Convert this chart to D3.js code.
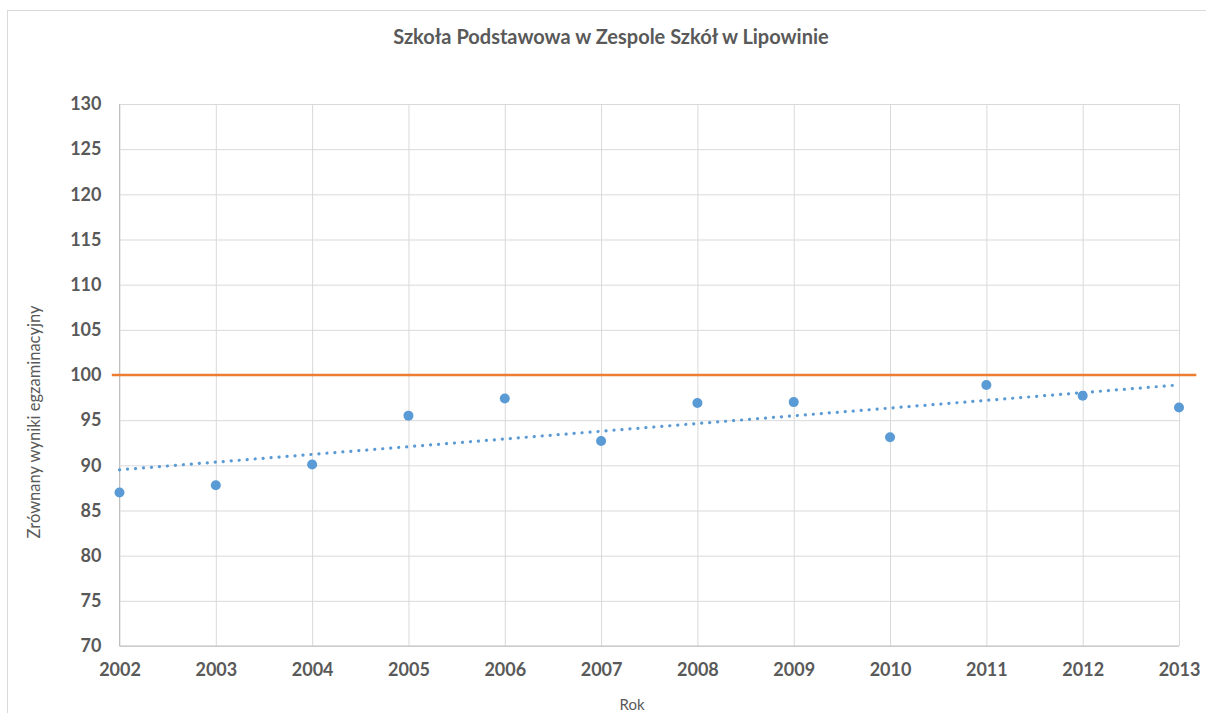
<!DOCTYPE html>
<html>
<head>
<meta charset="utf-8">
<script src="https://cdn.jsdelivr.net/npm/d3@7"></script>
<style>
  body { margin: 0; background: #fff; }
  svg { display: block; font-family: Lato, "Open Sans", sans-serif; }
</style>
</head>
<body>
<svg width="1206" height="713"></svg>
<script>
// dane
var lata = [2002, 2003, 2004, 2005, 2006, 2007, 2008, 2009, 2010, 2011, 2012, 2013];
var wyniki = [87.0, 87.8, 90.1, 95.5, 97.4, 92.7, 96.9, 97.0, 93.1, 98.9, 97.7, 96.4];
var sredniaLata = [2001.92, 2013.18];
var srednia = [100, 100];
var trendLata = [2002, 2013];
var trend = [89.5, 98.9];
var yTicks = d3.range(70, 131, 5);

var svg = d3.select("svg"),
    width = +svg.attr("width"),
    height = +svg.attr("height");

var margin = {left: 119.5, right: 1179, top: 104, bottom: 646};

var x = d3.scaleLinear().domain([2002, 2013]).range([margin.left, margin.right]);
var y = d3.scaleLinear().domain([70, 130]).range([margin.bottom, margin.top]);

// ramka wykresu
svg.append("rect")
    .attr("x", 7.5).attr("y", 10.5)
    .attr("width", 1210).attr("height", 720)
    .attr("fill", "#fff")
    .attr("stroke", "#d9d9d9");

svg.append("text")
    .attr("x", 611).attr("y", 44)
    .attr("text-anchor", "middle")
    .attr("font-size", 20).attr("font-weight", "bold")
    .attr("fill", "#595959")
    .text("Szkoła Podstawowa w Zespole Szkół w Lipowinie");

// siatka pozioma + oś Y
var yAxis = svg.append("g")
    .attr("transform", "translate(" + margin.left + ",0)")
    .call(d3.axisLeft(y).tickValues(yTicks).tickSize(-(margin.right - margin.left)).tickPadding(18));
yAxis.select(".domain").remove();
yAxis.selectAll(".tick line").attr("stroke", "#d9d9d9");
yAxis.selectAll(".tick text")
    .attr("font-family", "Lato, sans-serif")
    .attr("font-size", 18).attr("font-weight", "bold")
    .attr("fill", "#595959");

// siatka pionowa + oś X
var xAxis = svg.append("g")
    .attr("transform", "translate(0," + margin.bottom + ")")
    .call(d3.axisBottom(x).tickValues(lata).tickFormat(d3.format("d"))
        .tickSize(-(margin.bottom - margin.top)).tickPadding(17));
xAxis.select(".domain").remove();
xAxis.selectAll(".tick line").attr("stroke", "#d9d9d9");
xAxis.selectAll(".tick text")
    .attr("font-family", "Lato, sans-serif")
    .attr("font-size", 18).attr("font-weight", "bold")
    .attr("fill", "#595959");

// linie osi
svg.append("line")
    .attr("x1", margin.left).attr("x2", margin.left)
    .attr("y1", margin.top).attr("y2", margin.bottom)
    .attr("stroke", "#bfbfbf");
svg.append("line")
    .attr("x1", margin.left).attr("x2", margin.right)
    .attr("y1", margin.bottom).attr("y2", margin.bottom)
    .attr("stroke", "#bfbfbf");

var line = d3.line().x(d => x(d[0])).y(d => y(d[1]));

// linia trendu
svg.append("path")
    .datum(d3.zip(trendLata, trend))
    .attr("d", line)
    .attr("fill", "none")
    .attr("stroke", "#5b9bd5")
    .attr("stroke-width", 3.2)
    .attr("stroke-linecap", "round")
    .attr("stroke-dasharray", "0.1 7.9");

// średnia
svg.append("path")
    .datum(d3.zip(sredniaLata, srednia))
    .attr("d", line)
    .attr("fill", "none")
    .attr("stroke", "#ed7d31")
    .attr("stroke-width", 2.5);

// punkty
svg.append("g")
    .selectAll("circle")
    .data(d3.zip(lata, wyniki))
    .enter().append("circle")
    .attr("cx", d => x(d[0]))
    .attr("cy", d => y(d[1]))
    .attr("r", 5)
    .attr("fill", "#5b9bd5");

// tytuły osi
svg.append("text")
    .attr("transform", "translate(40,422) rotate(-90)")
    .attr("text-anchor", "middle")
    .attr("font-size", 16.5)
    .attr("fill", "#595959")
    .text("Zrównany wyniki egzaminacyjny");

svg.append("text")
    .attr("x", 632).attr("y", 710)
    .attr("text-anchor", "middle")
    .attr("font-size", 15)
    .attr("fill", "#595959")
    .text("Rok");
</script>
</body>
</html>
